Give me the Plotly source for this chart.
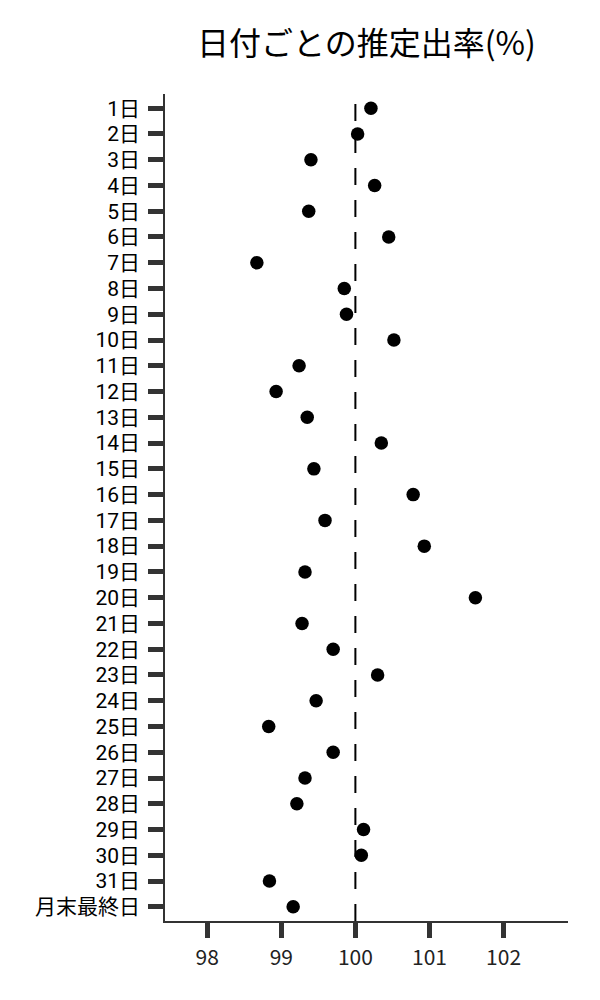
import plotly.graph_objects as go

# 日付ラベル (上から順)
days = [f"{d}日" for d in range(1, 32)] + ["月末最終日"]

# 推定出率(%)
rates = [
    100.21, 100.03, 99.40, 100.26, 99.37, 100.45, 98.67, 99.85, 99.88, 100.52,
    99.24, 98.93, 99.35, 100.35, 99.44, 100.78, 99.59, 100.93, 99.32, 101.62,
    99.28, 99.70, 100.30, 99.47, 98.83, 99.70, 99.32, 99.21, 100.11, 100.08,
    98.84, 99.16,
]

x_ticks = [98, 99, 100, 101, 102]
ref_value = 100

FONT = "Noto Sans CJK JP"
# 行間の狭いラテン書体を先に置いてラベル同士の重なりを避ける
TICK_FONT = "Roboto, Noto Sans CJK JP"

fig = go.Figure()
fig.add_trace(go.Scatter(
    x=rates, y=days, mode="markers",
    marker=dict(color="black", size=13.5),
    showlegend=False,
))

# 100% の基準線
fig.add_shape(
    type="line", xref="x", yref="paper",
    x0=ref_value, x1=ref_value, y0=0, y1=1,
    line=dict(color="black", width=2, dash="17px,15px"),
    layer="below",
)

fig.update_layout(
    width=600, height=1000,
    margin=dict(l=157, r=40, t=86, b=87),
    paper_bgcolor="white", plot_bgcolor="white",
    font=dict(family=FONT, color="black"),
    title=dict(text="日付ごとの推定出率(%)", xref="paper", x=0.5, xanchor="center",
               y=0.964, yanchor="middle", font=dict(size=32, color="black")),
    xaxis=dict(
        range=[97.43, 102.87], tickvals=x_ticks,
        showgrid=False, zeroline=False,
        showline=True, linecolor="#333", linewidth=1.5,
        ticks="outside", ticklen=15, tickwidth=5, tickcolor="#333",
        ticklabelstandoff=2,
        tickfont=dict(family=FONT, size=21, color="#222"),
    ),
    yaxis=dict(
        type="category", categoryorder="array", categoryarray=days,
        tickmode="array", tickvals=days, ticktext=days,
        range=[len(days) - 0.45, -0.55],
        showgrid=False, zeroline=False,
        showline=True, linecolor="#333", linewidth=1.5,
        ticks="outside", ticklen=15, tickwidth=5, tickcolor="#333",
        ticklabelstandoff=4,
        tickfont=dict(family=TICK_FONT, size=21, color="black"),
    ),
)

fig.write_html("out.html")
